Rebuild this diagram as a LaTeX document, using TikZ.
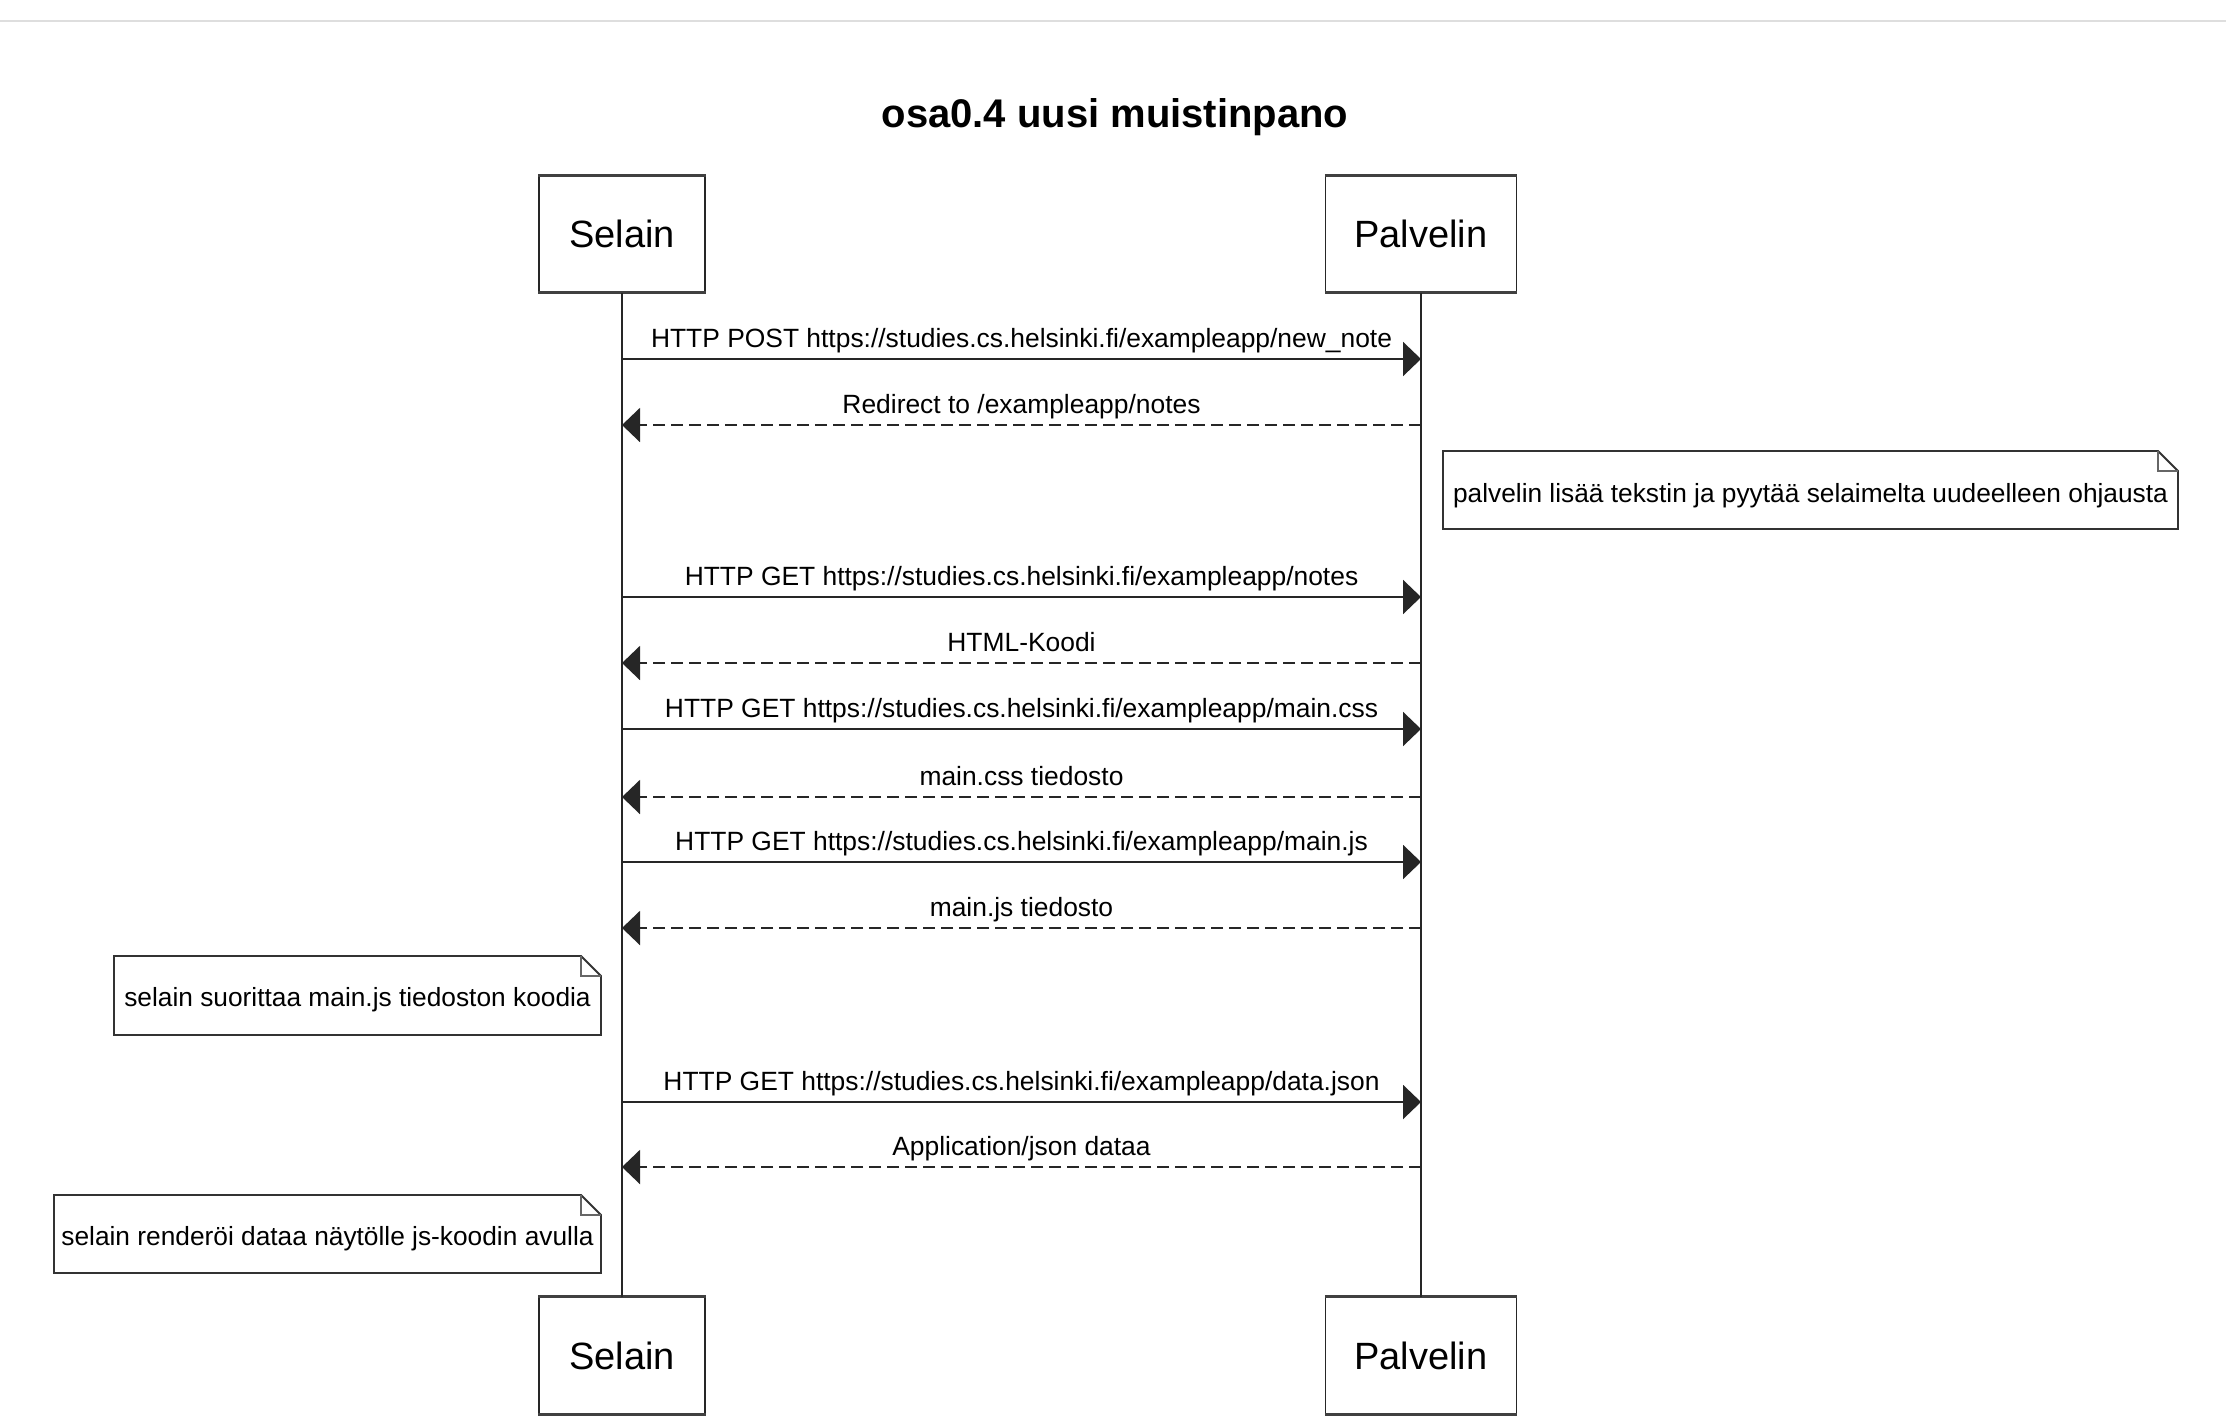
\documentclass[tikz,border=0pt]{standalone}
\usepackage{fontspec}
\setmainfont{Liberation Sans}
\usetikzlibrary{arrows.meta}
\tikzset{
  actor/.style={draw=black!85, line width=1.5pt, fill=white, inner sep=0pt,
    minimum height=116pt, font=\fontsize{38}{44}\selectfont},
  actoredge/.style={draw=black!75, line width=3pt},
  lifeline/.style={draw=black!85, line width=1.8pt},
  req/.style={draw=black!85, line width=2.2pt, -{Triangle[length=18pt,width=34pt]}},
  resp/.style={draw=black!85, line width=2.2pt, dash pattern=on 12pt off 6pt, -{Triangle[length=18pt,width=34pt]}},
  lbl/.style={anchor=base, yshift=12pt, inner sep=0pt, font=\fontsize{26.4}{30}\selectfont},
  notebox/.style={inner sep=0pt, minimum height=78pt, text height=22pt, text depth=0pt,
    font=\fontsize{26.3}{30}\selectfont},
  notepath/.style={draw=black!80, line width=1.8pt, fill=white},
  foldpath/.style={draw=black!60, line width=1.5pt},
}
\begin{document}
\begin{tikzpicture}[x=1pt,y=-1pt]
\useasboundingbox (0,0) rectangle (2226,1422);
% top rule
\draw[black!13, line width=2.5pt] (0,21) -- (2226,21);
% title
\node[anchor=base, inner sep=0pt, font=\bfseries\fontsize{40}{46}\selectfont] (title) at (1115,127) {osa0.4 uusi muistinpano};

% actors
\node[actor, minimum width=166pt] (selT) at (622,234) {Selain};
\node[actor, minimum width=191pt] (palT) at (1421,234) {Palvelin};
\node[actor, minimum width=166pt] (selB) at (622,1355.5) {Selain};
\node[actor, minimum width=191pt] (palB) at (1421,1355.5) {Palvelin};
\foreach \a in {selT,palT,selB,palB}{
  \draw[actoredge] (\a.north west) -- (\a.north east);
  \draw[actoredge] (\a.south west) -- (\a.south east);
}

% lifelines
\draw[lifeline] (selT.south) -- (selB.north);
\draw[lifeline] (palT.south) -- (palB.north);

% message end points on the lifelines
\foreach \i/\y in {1/359,2/425,3/597,4/663,5/729,6/797,7/862,8/928,9/1102,10/1167}{
  \coordinate (s\i) at (622,\y);
  \coordinate (p\i) at (1421,\y);
}

\draw[req]  (s1) -- node[lbl] {HTTP POST https://studies.cs.helsinki.fi/exampleapp/new\_note} (p1);
\draw[resp] (p2) -- node[lbl] {Redirect to /exampleapp/notes} (s2);
\draw[req]  (s3) -- node[lbl] {HTTP GET https://studies.cs.helsinki.fi/exampleapp/notes} (p3);
\draw[resp] (p4) -- node[lbl] {HTML-Koodi} (s4);
\draw[req]  (s5) -- node[lbl] {HTTP GET https://studies.cs.helsinki.fi/exampleapp/main.css} (p5);
\draw[resp] (p6) -- node[lbl] {main.css tiedosto} (s6);
\draw[req]  (s7) -- node[lbl] {HTTP GET https://studies.cs.helsinki.fi/exampleapp/main.js} (p7);
\draw[resp] (p8) -- node[lbl] {main.js tiedosto} (s8);
\draw[req]  (s9) -- node[lbl] {HTTP GET https://studies.cs.helsinki.fi/exampleapp/data.json} (p9);
\draw[resp] (p10) -- node[lbl] {Application/json dataa} (s10);

% notes
\path[notepath] (1443,451) -- (2158,451) -- (2178,471) -- (2178,529) -- (1443,529) -- cycle;
\draw[foldpath] (2158,451) -- (2158,471) -- (2178,471);
\node[notebox, minimum width=735pt, text height=24pt] (n1) at (1810.5,490) {palvelin lisää tekstin ja pyytää selaimelta uudeelleen ohjausta};

\path[notepath] (114,956) -- (581,956) -- (601,976) -- (601,1035) -- (114,1035) -- cycle;
\draw[foldpath] (581,956) -- (581,976) -- (601,976);
\node[notebox, minimum width=487pt] (n2) at (357.5,995.5) {selain suorittaa main.js tiedoston koodia};

\path[notepath] (54,1195) -- (581,1195) -- (601,1215) -- (601,1273) -- (54,1273) -- cycle;
\draw[foldpath] (581,1195) -- (581,1215) -- (601,1215);
\node[notebox, minimum width=547pt] (n3) at (327.5,1234) {selain renderöi dataa näytölle js-koodin avulla};
\end{tikzpicture}
\end{document}
